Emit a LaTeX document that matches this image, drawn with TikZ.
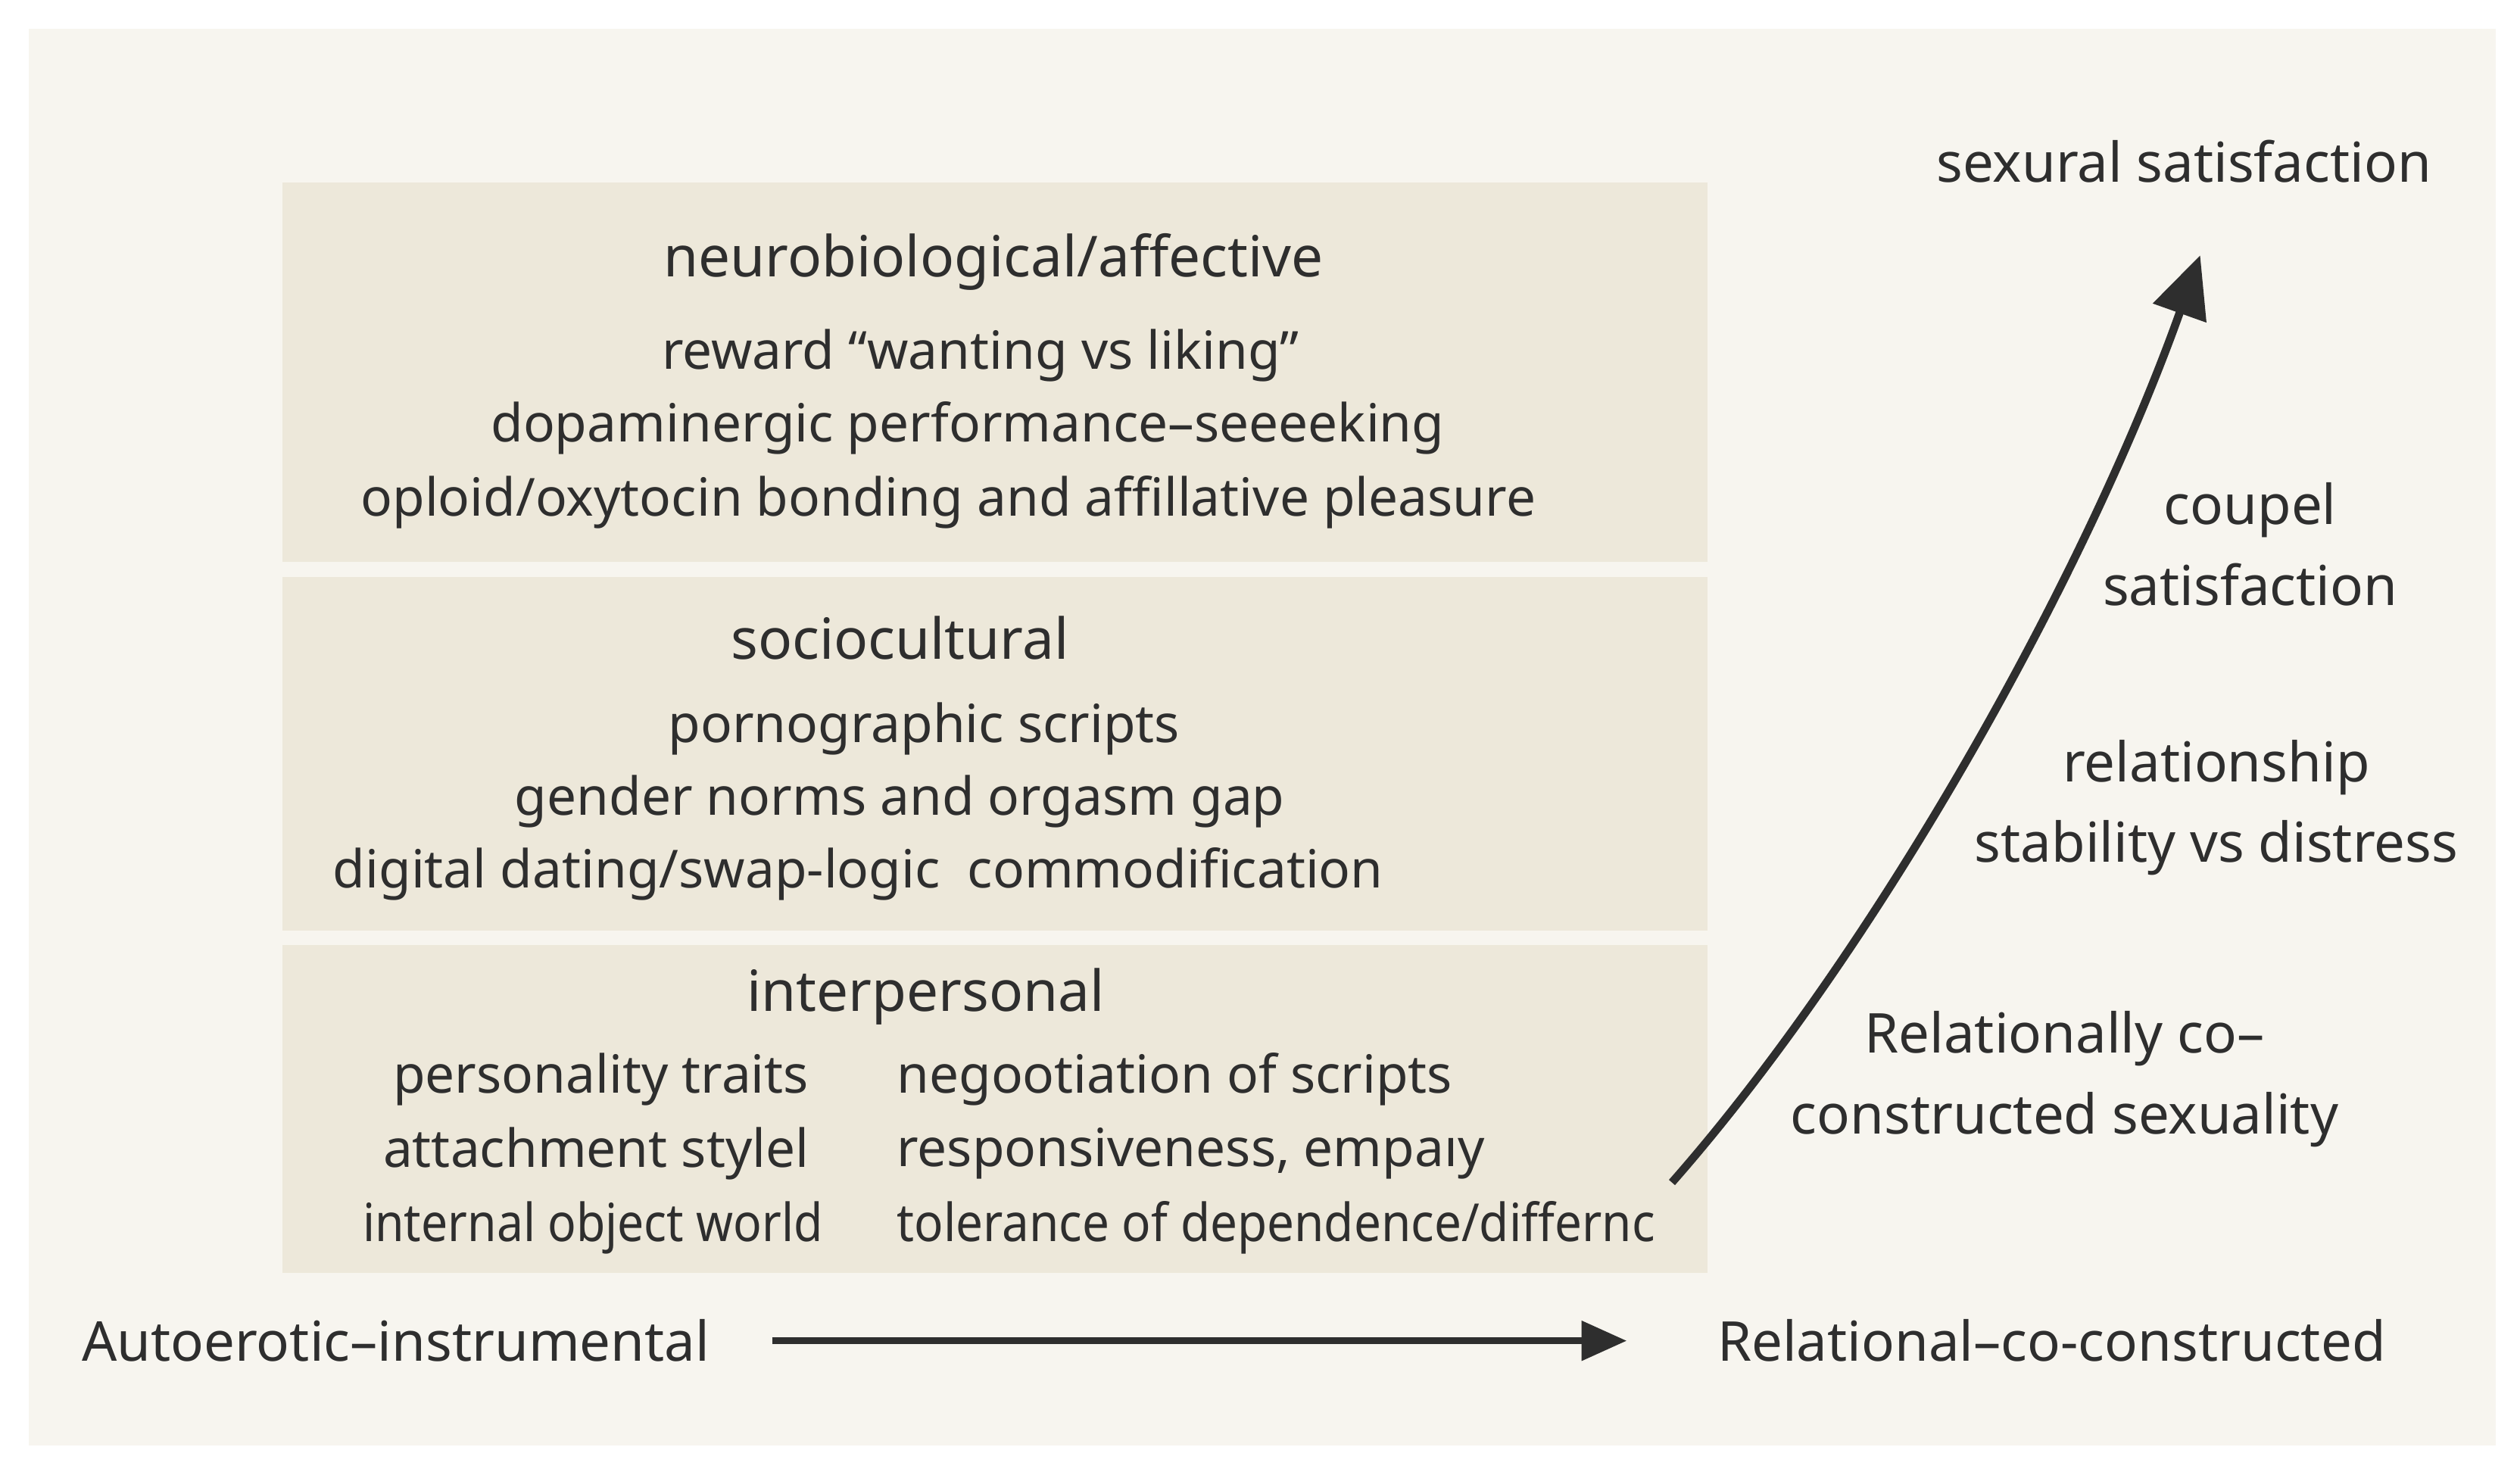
\documentclass[tikz,border=0pt]{standalone}
\usepackage{fontspec}
\setmainfont{Noto Sans}
\usetikzlibrary{arrows.meta}
\definecolor{bg}{HTML}{F7F5EF}
\definecolor{boxc}{HTML}{EDE8DA}
\definecolor{ink}{HTML}{2E2E2E}
\begin{document}
\begin{tikzpicture}[x=1pt,y=-1pt,
  box/.style={fill=boxc,draw=none},
  hd/.style={font=\fontsize{35}{40}\selectfont,text=ink,inner sep=0},
  it/.style={font=\fontsize{32.5}{38}\selectfont,text=ink,inner sep=0},
  lab/.style={font=\fontsize{34}{50}\selectfont,text=ink,align=center,inner sep=0},
  arr/.style={draw=ink,line width=5pt,-{Triangle[length=38pt,width=34pt]}}]
\useasboundingbox (0,0) rectangle (1560,909);
\fill[white] (0,0) rectangle (1560,909);
\fill[bg] (18,18) rectangle (1545,895);
\fill[box] (175,113) rectangle (1057,348);
\fill[box] (175,357) rectangle (1057,576);
\fill[box] (175,585) rectangle (1057,788);
\node[hd] (h1) at (615,162) {neurobiological/affective};
\node[it] (a1) at (607,220) {reward “wanting vs liking”};
\node[it] (a2) at (599,265) {dopaminergic performance–seeeeking};
\node[it] (a3) at (587,311) {oploid/oxytocin bonding and affillative pleasure};
\node[hd] (h2) at (557,395) {sociocultural};
\node[it] (b1) at (572,451) {pornographic scripts};
\node[it] (b2) at (557,496) {gender norms and orgasm gap};
\node[it,anchor=west] (b3) at (206,541) {digital dating/swap-logic\ \ commodification};
\node[hd] (h3) at (573,617) {interpersonal};
\node[it] (c1) at (372,668) {personality traits};
\node[it] (c2) at (369,714) {attachment stylel};
\node[it] (c3) at (367,760) {\scalebox{0.9}[1]{internal object world}};
\node[it,anchor=west] (d1) at (555,668) {negootiation of scripts};
\node[it,anchor=west] (d2) at (555,714) {responsiveness, empaıy};
\node[it,anchor=west] (d3) at (555,760) {\scalebox{0.92}[1]{tolerance of dependence/differnc}};
\node[lab] (l1) at (1352,100) {sexural satisfaction};
\node[lab] (l2) at (1393,337) {coupel\\satisfaction};
\node[lab] (l3) at (1372,500) {relationship\\stability vs distress};
\node[lab] (l4) at (1278,668) {Relationally co–\\constructed sexuality};
\node[lab] (xl) at (245,830) {Autoerotic–instrumental};
\node[lab] (xr) at (1270,830) {Relational–co-constructed};
\coordinate (s) at (1035,732);
\coordinate (e) at (1362,158);
\coordinate (hs) at (478,830);
\coordinate (he) at (1007,830);
\draw[arr] (s) .. controls (1160,590) and (1290,360) .. (e);
\draw[arr,line width=4pt,-{Triangle[length=28pt,width=24pt]}] (hs) -- (he);
\end{tikzpicture}
\end{document}
